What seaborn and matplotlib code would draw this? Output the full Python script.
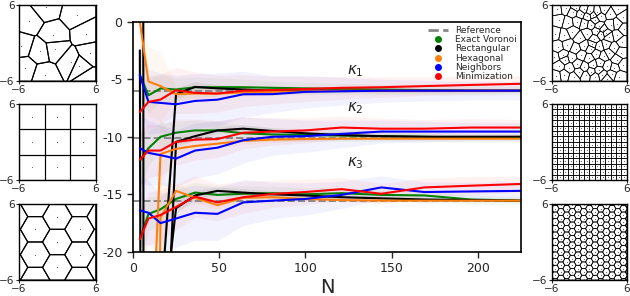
import matplotlib

matplotlib.use("Agg")
import matplotlib.pyplot as plt
import numpy as np
import pandas as pd
import seaborn as sns
from matplotlib.lines import Line2D
from matplotlib.patches import Polygon

# --- data ------------------------------------------------------------------
N = [4, 9, 16, 25, 36, 49, 64, 81, 100, 121, 144, 169, 196, 225]
methods = ["Exact Voronoi", "Rectangular", "Hexagonal", "Neighbors", "Minimization"]
colors = ["#008000", "#000000", "#ff7f0e", "#0000ff", "#ff0000"]
reference = [-6.0, -10.1, -15.55]

voronoi_k1 = [-4.6, -6.4, -5.8, -5.9, -5.7, -5.7, -5.7, -5.75, -5.8, -5.85, -5.9, -5.95, -6.0, -6.0]
voronoi_k2 = [-12.1, -11.0, -10.0, -9.65, -9.45, -9.45, -9.7, -9.8, -9.85, -9.9, -9.95, -10.0, -10.1, -10.1]
voronoi_k3 = [-18.9, -16.7, -16.3, -15.4, -14.85, -15.05, -14.95, -14.9, -15.0, -14.9, -15.05, -15.1, -15.45, -15.55]

rect_k1 = [-2.5, -300, -25, -6.3, -5.67, -5.8, -5.9, -6.0, -6.0, -6.0, -6.0, -6.0, -6.0, -6.0]
rect_k2 = [400, -600, -40, -10.45, -9.95, -9.45, -9.3, -9.5, -9.7, -9.85, -9.95, -10.0, -10.0, -10.0]
rect_k3 = [-300, -600, -28, -16.2, -15.1, -14.7, -14.85, -15.0, -15.1, -15.25, -15.35, -15.45, -15.5, -15.55]

hex_k1 = [0.0, -5.2, -5.6, -6.3, -6.25, -6.25, -6.15, -6.1, -6.05, -6.0, -6.0, -6.0, -6.0, -6.0]
hex_k2 = [-30, -35, -11.5, -11.05, -10.8, -10.6, -10.35, -10.25, -10.2, -10.17, -10.17, -10.17, -10.17, -10.17]
hex_k3 = [-40, -100, -17.0, -14.7, -15.3, -15.95, -15.3, -15.25, -15.4, -15.5, -15.55, -15.55, -15.55, -15.55]

neigh_k1 = [-4.65, -6.97, -7.06, -7.18, -6.89, -6.78, -6.31, -6.3, -6.1, -6.05, -6.0, -6.0, -6.0, -6.0]
neigh_k2 = [-11.0, -11.4, -11.6, -11.9, -11.2, -10.95, -10.3, -10.0, -9.95, -9.75, -9.55, -9.55, -9.55, -9.55]
neigh_k3 = [-16.4, -16.6, -17.5, -17.1, -16.6, -16.7, -15.7, -15.55, -15.4, -15.05, -14.4, -14.8, -14.75, -14.7]

minim_k1 = [-7.85, -6.97, -6.77, -5.96, -6.19, -6.25, -6.0, -5.95, -5.85, -5.75, -5.7, -5.6, -5.5, -5.4]
minim_k2 = [-12.0, -11.2, -11.2, -10.45, -10.25, -10.2, -9.65, -9.55, -9.45, -9.2, -9.3, -9.3, -9.2, -9.2]
minim_k3 = [-18.9, -17.1, -16.8, -16.1, -15.2, -15.7, -15.25, -14.97, -14.8, -14.55, -14.95, -14.4, -14.25, -14.1]

# half-width of the shaded bands, per method
voronoi_spread = [2.5, 1.5, 1.2, 1.0, 0.9, 0.8, 0.7, 0.6, 0.55, 0.5, 0.45, 0.4, 0.4, 0.35]
rect_spread = [3.0, 3.0, 3.0, 0.5, 0.4, 0.3, 0.3, 0.25, 0.2, 0.2, 0.2, 0.2, 0.15, 0.15]
hex_spread = [3.0, 3.0, 3.0, 0.6, 0.5, 0.4, 0.35, 0.3, 0.25, 0.2, 0.2, 0.2, 0.15, 0.15]
neigh_spread = [3.0, 2.8, 2.6, 2.5, 2.4, 2.3, 2.0, 1.6, 1.4, 1.2, 1.0, 0.9, 0.8, 0.8]
minim_spread = [2.5, 2.3, 2.2, 2.0, 1.8, 1.6, 1.4, 1.2, 1.1, 1.0, 0.9, 0.8, 0.8, 0.7]

series = {
    "Exact Voronoi": ([voronoi_k1, voronoi_k2, voronoi_k3], voronoi_spread),
    "Rectangular": ([rect_k1, rect_k2, rect_k3], rect_spread),
    "Hexagonal": ([hex_k1, hex_k2, hex_k3], hex_spread),
    "Neighbors": ([neigh_k1, neigh_k2, neigh_k3], neigh_spread),
    "Minimization": ([minim_k1, minim_k2, minim_k3], minim_spread),
}

# generators for the small partition panels
sparse_sites = [
    (-1.8, 5.7), (3.0, 4.5), (-4.5, 3.5), (-0.6, 1.2), (-5.6, -0.4), (-2.7, -1.3), (-0.4, -0.9),
    (5.1, -1.6), (2.1, -3.0), (3.4, -3.6), (-5.1, -4.0), (4.8, -5.8), (-2.0, -5.0), (4.5, 1.5),
]
dense_sites = [
    (-5.2, 5.3), (-3.8, 5.5), (-2.6, 4.9), (-2.2, 5.6), (-1.4, 4.6), (-0.9, 5.3), (-0.3, 4.2), (0.1, 5.0),
    (0.6, 4.4), (0.9, 3.6), (1.3, 4.9), (1.8, 4.2), (2.4, 5.2), (3.3, 4.6), (4.6, 5.4), (5.4, 4.1),
    (-4.9, 3.6), (-3.4, 3.2), (-1.9, 3.4), (-0.8, 3.1), (0.3, 2.9), (1.5, 2.7), (2.2, 2.1), (2.6, 1.6),
    (1.9, 1.4), (3.4, 2.9), (4.4, 3.0), (5.5, 2.2), (-5.5, 1.5), (-4.0, 1.2), (-2.7, 1.8), (-1.5, 0.8),
    (-0.3, 1.5), (0.8, 0.6), (1.2, 1.9), (3.1, 0.9), (4.5, 1.2), (5.3, 0.2), (-5.0, -0.6), (-3.5, -0.3),
    (-2.2, -0.9), (-0.8, -0.4), (0.2, -0.9), (0.5, -0.2), (1.6, -0.5), (2.7, -0.2), (3.9, -0.8), (5.1, -1.5),
    (-5.6, -2.2), (-4.2, -1.9), (-3.9, -2.6), (-2.8, -2.3), (-1.3, -1.9), (0.0, -2.4), (1.1, -1.7), (2.3, -2.1),
    (3.2, -1.6), (4.4, -2.6), (-4.8, -3.6), (-3.2, -3.9), (-1.9, -3.3), (-0.8, -3.8), (0.6, -3.4), (1.7, -3.1),
    (2.9, -3.6), (4.0, -3.9), (5.4, -3.4), (-5.3, -5.2), (-4.0, -5.0), (-2.5, -5.4), (-1.6, -4.6), (-0.6, -5.1),
    (0.3, -4.5), (0.9, -5.3), (1.5, -4.3), (2.1, -5.0), (2.8, -5.6), (3.6, -4.9), (4.8, -5.3),
]
grid_small = 3
grid_large = 14
hex_small_spacing = 4.0
hex_large_spacing = 1.05


def clip_halfplane(poly, a, b, c):
    out = []
    n = len(poly)
    for k in range(n):
        p, q = poly[k], poly[(k + 1) % n]
        fp = a * p[0] + b * p[1] - c
        fq = a * q[0] + b * q[1] - c
        if fp <= 0:
            out.append(p)
        if fp * fq < 0:
            t = fp / (fp - fq)
            out.append((p[0] + t * (q[0] - p[0]), p[1] + t * (q[1] - p[1])))
    return out


def voronoi_cells(sites, half=6.0):
    pts = np.asarray(sites, dtype=float)
    cells = []
    for i, p in enumerate(pts):
        poly = [(-half, -half), (half, -half), (half, half), (-half, half)]
        dist = np.hypot(*(pts - p).T)
        for j in np.argsort(dist)[1:]:
            if not poly:
                break
            reach = max(np.hypot(v[0] - p[0], v[1] - p[1]) for v in poly)
            if dist[j] / 2 > reach:
                break
            q = pts[j]
            a, b = q - p
            c = (q @ q - p @ p) / 2
            poly = clip_halfplane(poly, a, b, c)
        if len(poly) >= 3:
            cells.append(poly)
    return cells


def hex_sites(spacing):
    col = spacing * np.sqrt(3) / 2
    sites = []
    for i in range(-12, 13):
        x = i * col
        if abs(x) > 6 + 2 * col:
            continue
        off = spacing / 2 if i % 2 else 0.0
        for j in range(-14, 15):
            y = j * spacing + off
            if abs(y) <= 6 + 2 * spacing:
                sites.append((x, y))
    return sites


def grid_sites(n):
    step = 12 / n
    centers = [-6 + step * (k + 0.5) for k in range(n)]
    return [(x, y) for x in centers for y in centers]


def draw_partition(ax, sites, lw):
    for poly in voronoi_cells(sites):
        ax.add_patch(Polygon(poly, closed=True, fill=False, edgecolor="black", linewidth=lw))
    inside = [s for s in sites if abs(s[0]) < 6 and abs(s[1]) < 6]
    xs, ys = zip(*inside)
    ax.scatter(xs, ys, s=0.6, color="#555555", linewidths=0, zorder=3)
    ax.set_xlim(-6, 6)
    ax.set_ylim(-6, 6)
    ax.set_xticks([-6, 6])
    ax.set_yticks([-6, 6])
    ax.tick_params(labelsize=7.5, length=2, width=0.8, pad=1)
    for spine in ax.spines.values():
        spine.set_visible(True)
        spine.set_linewidth(1.0)
        spine.set_color("black")


sns.set_theme(style="ticks")
plt.rcParams["font.family"] = ["DejaVu Sans"]

fig = plt.figure(figsize=(6.3, 2.96), dpi=100)

# --- main convergence panel -----------------------------------------------
ax = fig.add_axes([0.211, 0.149, 0.616, 0.778])

rows = []
for method in methods:
    curves, _ = series[method]
    for k, curve in enumerate(curves):
        for n, v in zip(N, curve):
            rows.append({"N": n, "value": v, "method": method, "kappa": k})
df = pd.DataFrame(rows)

for method, color in zip(methods, colors):
    curves, spread = series[method]
    for curve in curves:
        lo = np.array(curve) - np.array(spread)
        hi = np.array(curve) + np.array(spread)
        ax.fill_between(N, lo, hi, color=color, alpha=0.05, linewidth=0, zorder=0)

for ref in reference:
    ax.axhline(ref, color="#888888", linestyle="--", linewidth=1.4, zorder=1)

sns.lineplot(
    data=df, x="N", y="value", hue="method", units="kappa", estimator=None,
    palette=dict(zip(methods, colors)), hue_order=methods, linewidth=1.5,
    legend=False, ax=ax, zorder=2,
)

ax.set_xlim(0, 225)
ax.set_ylim(-20, 0)
ax.set_xticks([0, 50, 100, 150, 200])
ax.set_yticks([0, -5, -10, -15, -20])
ax.set_yticklabels(["0", "-5", "-10", "-15", "-20"])
ax.tick_params(labelsize=9, length=4, width=1.0)
ax.set_xlabel("N", fontsize=14, labelpad=2)
ax.set_ylabel("")
for spine in ax.spines.values():
    spine.set_visible(True)
    spine.set_linewidth(1.2)
    spine.set_color("black")

for label, yy in zip([r"$\kappa_1$", r"$\kappa_2$", r"$\kappa_3$"], [-4.3, -7.5, -12.3]):
    ax.text(129, yy, label, fontsize=11, ha="center", va="center")

handles = [Line2D([], [], color="#888888", linestyle="--", linewidth=2)]
handles += [Line2D([], [], color=c, marker="o", linestyle="", markersize=4) for c in colors]
ax.legend(
    handles, ["Reference"] + methods, loc="upper right", frameon=False, fontsize=6.5,
    labelspacing=0.02, handlelength=2.2, borderaxespad=0.1, handletextpad=0.8,
)

# --- side panels ----------------------------------------------------------
left_bottoms = [0.726, 0.392, 0.054]
left_sites = [sparse_sites, grid_sites(grid_small), hex_sites(hex_small_spacing)]
right_sites = [dense_sites, grid_sites(grid_large), hex_sites(hex_large_spacing)]

for bottom, sites in zip(left_bottoms, left_sites):
    sub = fig.add_axes([0.030, bottom, 0.122, 0.257])
    draw_partition(sub, sites, lw=0.8)

for bottom, sites in zip(left_bottoms, right_sites):
    sub = fig.add_axes([0.876, bottom, 0.119, 0.257])
    draw_partition(sub, sites, lw=0.5)

fig.savefig("out.png", dpi=100)
